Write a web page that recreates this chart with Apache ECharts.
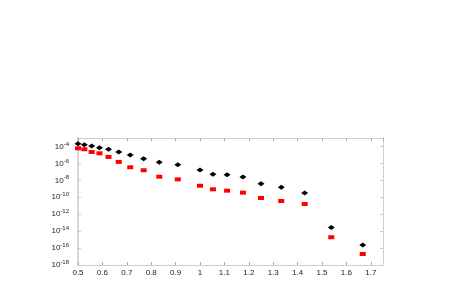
<!DOCTYPE html>
<html><head><meta charset="utf-8">
<script src="https://cdn.jsdelivr.net/npm/echarts@6/dist/echarts.min.js"></script>
<style>html,body{margin:0;padding:0;background:#fff}#c{width:463px;height:300px}</style>
</head><body><div id="c"></div>
<script>
const xValues = [0.5, 0.526, 0.556, 0.588, 0.625, 0.667, 0.714, 0.769, 0.833, 0.909, 1.0, 1.053, 1.111, 1.176, 1.25, 1.333, 1.429, 1.538, 1.667];
const blackValues = [2.1e-4, 1.6e-4, 1.15e-4, 7.1e-5, 4.7e-5, 2.2e-5, 9.8e-6, 3.6e-6, 1.35e-6, 7.1e-7, 1.66e-7, 5.1e-8, 4.7e-8, 2.5e-8, 4.0e-9, 1.5e-9, 3.2e-10, 2.6e-14, 2.3e-16];
const redValues = [6.0e-5, 4.7e-5, 2.2e-5, 1.55e-5, 5.8e-6, 1.5e-6, 3.5e-7, 1.55e-7, 2.7e-8, 1.3e-8, 2.3e-9, 8.7e-10, 6.0e-10, 3.5e-10, 8.3e-11, 3.6e-11, 1.6e-11, 1.9e-15, 2.0e-17];
const xTicks = [0.5, 0.6, 0.7, 0.8, 0.9, 1, 1.1, 1.2, 1.3, 1.4, 1.5, 1.6, 1.7];

const chart = echarts.init(document.getElementById('c'), null, {renderer: 'canvas'});
const lineC = '#cfcfcf';
const labelFont = {fontFamily: 'Liberation Sans, Arial, sans-serif', fontSize: 8, color: '#222'};
const xBase = {
  type: 'value', min: 0.5, max: 1.75, interval: 0.1,
  axisLine: {show: true, lineStyle: {color: lineC, width: 1}},
  axisTick: {show: true, inside: true, length: 3, lineStyle: {color: '#aaa'}},
  splitLine: {show: false}
};
const yBase = {
  type: 'log', logBase: 10, min: 1e-18, max: 1e-3, interval: 2,
  axisLine: {show: true, lineStyle: {color: lineC, width: 1}},
  axisTick: {show: true, inside: true, length: 3, lineStyle: {color: '#ccc'}},
  splitLine: {show: false}, minorTick: {show: false}
};
chart.setOption({
  animation: false,
  backgroundColor: '#fff',
  grid: {left: 78, top: 138, width: 305, height: 127, containLabel: false},
  xAxis: [
    Object.assign({}, xBase, {position: 'bottom',
      axisLabel: Object.assign({}, labelFont, {margin: 4, showMaxLabel: false,
        formatter: v => xTicks.some(t => Math.abs(t - v) < 1e-6) ? String(Math.round(v * 10) / 10) : ''})}),
    Object.assign({}, xBase, {position: 'top', axisLabel: {show: false}})
  ],
  yAxis: [
    Object.assign({}, yBase, {position: 'left', axisLine: {show: true, lineStyle: {color: '#d8d8d8', width: 2}},
      axisLabel: Object.assign({}, labelFont, {margin: 9, showMaxLabel: false,
        formatter: v => '10{s|' + Math.round(Math.log10(v)) + '}',
        rich: {s: {fontSize: 6, verticalAlign: 'top', padding: [0, 0, 5, 0], color: '#222', fontFamily: 'Liberation Sans, Arial, sans-serif'}}})}),
    Object.assign({}, yBase, {position: 'right', axisLabel: {show: false}})
  ],
  series: [
    {type: 'scatter', name: 'black', symbol: 'diamond', symbolSize: [7, 5],
      itemStyle: {color: '#000', opacity: 1}, data: xValues.map((x, i) => [x, blackValues[i]])},
    {type: 'scatter', name: 'red', symbol: 'rect', symbolSize: [6, 4],
      itemStyle: {color: '#f00', opacity: 1}, data: xValues.map((x, i) => [x, redValues[i]])}
  ]
});
</script></body></html>
